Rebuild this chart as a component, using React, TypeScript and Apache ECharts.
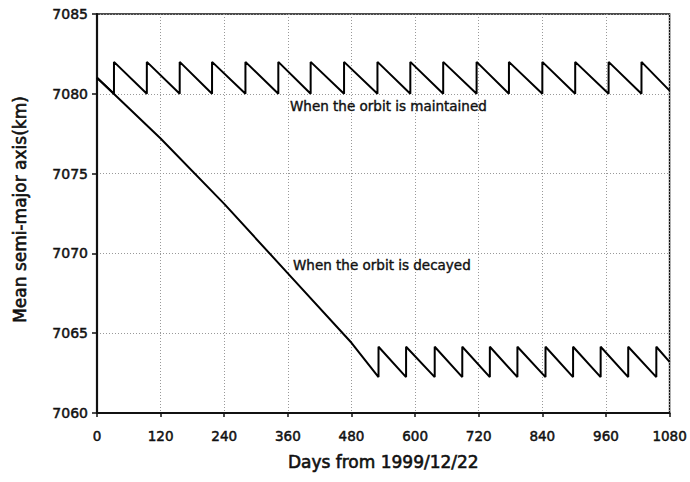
import React, { useEffect, useRef } from "react";
import * as echarts from "echarts";

// Days from 1999/12/22 and mean semi-major axis (km)
const maintainedDays = [
  0, 32, 32, 94, 94, 156, 156, 217, 217, 280, 280, 342, 342, 403, 403, 466, 466,
  529, 529, 591, 591, 653, 653, 716, 716, 777, 777, 840, 840, 902, 902, 965, 965,
  1027, 1027, 1080,
];
const maintainedValues = [
  7081, 7080, 7082, 7080, 7082, 7080, 7082, 7080, 7082, 7080, 7082, 7080, 7082,
  7080, 7082, 7080, 7082, 7080, 7082, 7080, 7082, 7080, 7082, 7080, 7082, 7080,
  7082, 7080, 7082, 7080, 7082, 7080, 7082, 7080, 7082, 7080.2,
];

const decayedDays = [
  0, 120, 240, 360, 480, 531, 531, 583, 583, 637, 637, 689, 689, 741, 741, 793,
  793, 846, 846, 898, 898, 950, 950, 1002, 1002, 1055, 1055, 1080,
];
const decayedValues = [
  7081, 7077.2, 7073.1, 7068.75, 7064.4, 7062.25, 7064.15, 7062.25, 7064.15,
  7062.25, 7064.15, 7062.25, 7064.15, 7062.25, 7064.15, 7062.25, 7064.15,
  7062.25, 7064.15, 7062.25, 7064.15, 7062.25, 7064.15, 7062.25, 7064.15,
  7062.25, 7064.15, 7063.2,
];

const xTicks = [0, 120, 240, 360, 480, 600, 720, 840, 960, 1080];
const yTicks = [7060, 7065, 7070, 7075, 7080, 7085];

const labelMaintained = "When the orbit is maintained";
const labelDecayed = "When the orbit is decayed";
const xAxisName = "Days from 1999/12/22";
const yAxisName = "Mean semi-major axis(km)";

const FONT = "DejaVu Sans";
const INK = "#111";

export default function App() {
  const ref = useRef<HTMLDivElement>(null);

  useEffect(() => {
    if (!ref.current) return;
    const chart = echarts.init(ref.current, undefined, { renderer: "svg" });
    const pairs = (xs: number[], ys: number[]) => xs.map((x, i) => [x, ys[i]]);
    const heavy = (w: number) => ({ textBorderColor: INK, textBorderWidth: w });

    chart.setOption({
      animation: false,
      backgroundColor: "#fff",
      textStyle: { fontFamily: FONT },
      grid: {
        left: 97,
        right: 20,
        top: 14,
        bottom: 69,
        show: true,
        borderColor: INK,
        borderWidth: 1.5,
        backgroundColor: "transparent",
      },
      xAxis: {
        type: "value",
        min: xTicks[0],
        max: xTicks[xTicks.length - 1],
        interval: 120,
        name: xAxisName,
        nameLocation: "middle",
        nameGap: 49,
        nameTextStyle: {
          fontFamily: FONT,
          fontSize: 17,
          color: INK,
          verticalAlign: "middle",
          ...heavy(0.6),
        },
        axisLine: { show: true, onZero: false, lineStyle: { color: INK, width: 1.8 } },
        axisTick: { show: true, inside: false, length: 4, lineStyle: { color: INK, width: 1.5 } },
        axisLabel: {
          fontFamily: FONT,
          fontSize: 13.5,
          color: INK,
          margin: 16,
          ...heavy(0.5),
          formatter: (v: number) => (xTicks.includes(v) ? String(v) : ""),
        },
        splitLine: {
          show: true,
          lineStyle: { color: "#999", width: 1, type: [1, 2] },
        },
      },
      yAxis: {
        type: "value",
        min: yTicks[0],
        max: yTicks[yTicks.length - 1],
        interval: 5,
        name: yAxisName,
        nameLocation: "middle",
        nameGap: 77,
        nameRotate: 90,
        nameTextStyle: {
          fontFamily: FONT,
          fontSize: 17,
          color: INK,
          verticalAlign: "middle",
          padding: [0, 0, 0, 8],
          ...heavy(0.6),
        },
        axisLine: { show: true, onZero: false, lineStyle: { color: INK, width: 2.2 } },
        axisTick: { show: true, inside: false, length: 5, lineStyle: { color: INK, width: 1.5 } },
        axisLabel: {
          fontFamily: FONT,
          fontSize: 14,
          color: INK,
          margin: 9,
          ...heavy(0.5),
          formatter: (v: number) => (yTicks.includes(v) ? String(v) : ""),
        },
        splitLine: {
          show: true,
          lineStyle: { color: "#999", width: 1, type: [1, 2] },
        },
      },
      series: [
        {
          name: "decayed",
          type: "line",
          data: pairs(decayedDays, decayedValues),
          showSymbol: false,
          lineStyle: { color: "#000", width: 2 },
          z: 3,
        },
        {
          name: "maintained",
          type: "line",
          data: pairs(maintainedDays, maintainedValues),
          showSymbol: false,
          lineStyle: { color: "#000", width: 2 },
          z: 3,
        },
      ],
      graphic: [
        {
          type: "text",
          x: 290,
          y: 106,
          style: {
            text: labelMaintained,
            fontFamily: FONT,
            fontSize: 13.5,
            fill: INK,
            stroke: INK,
            lineWidth: 0.4,
            verticalAlign: "middle",
            align: "left",
          },
          z: 10,
        },
        {
          type: "text",
          x: 293,
          y: 265,
          style: {
            text: labelDecayed,
            fontFamily: FONT,
            fontSize: 13.5,
            fill: INK,
            stroke: INK,
            lineWidth: 0.4,
            verticalAlign: "middle",
            align: "left",
          },
          z: 10,
        },
      ],
    });

    return () => chart.dispose();
  }, []);

  return (
    <div
      ref={ref}
      style={{ width: 690, height: 482, position: "absolute", left: 0, top: 0 }}
    />
  );
}
